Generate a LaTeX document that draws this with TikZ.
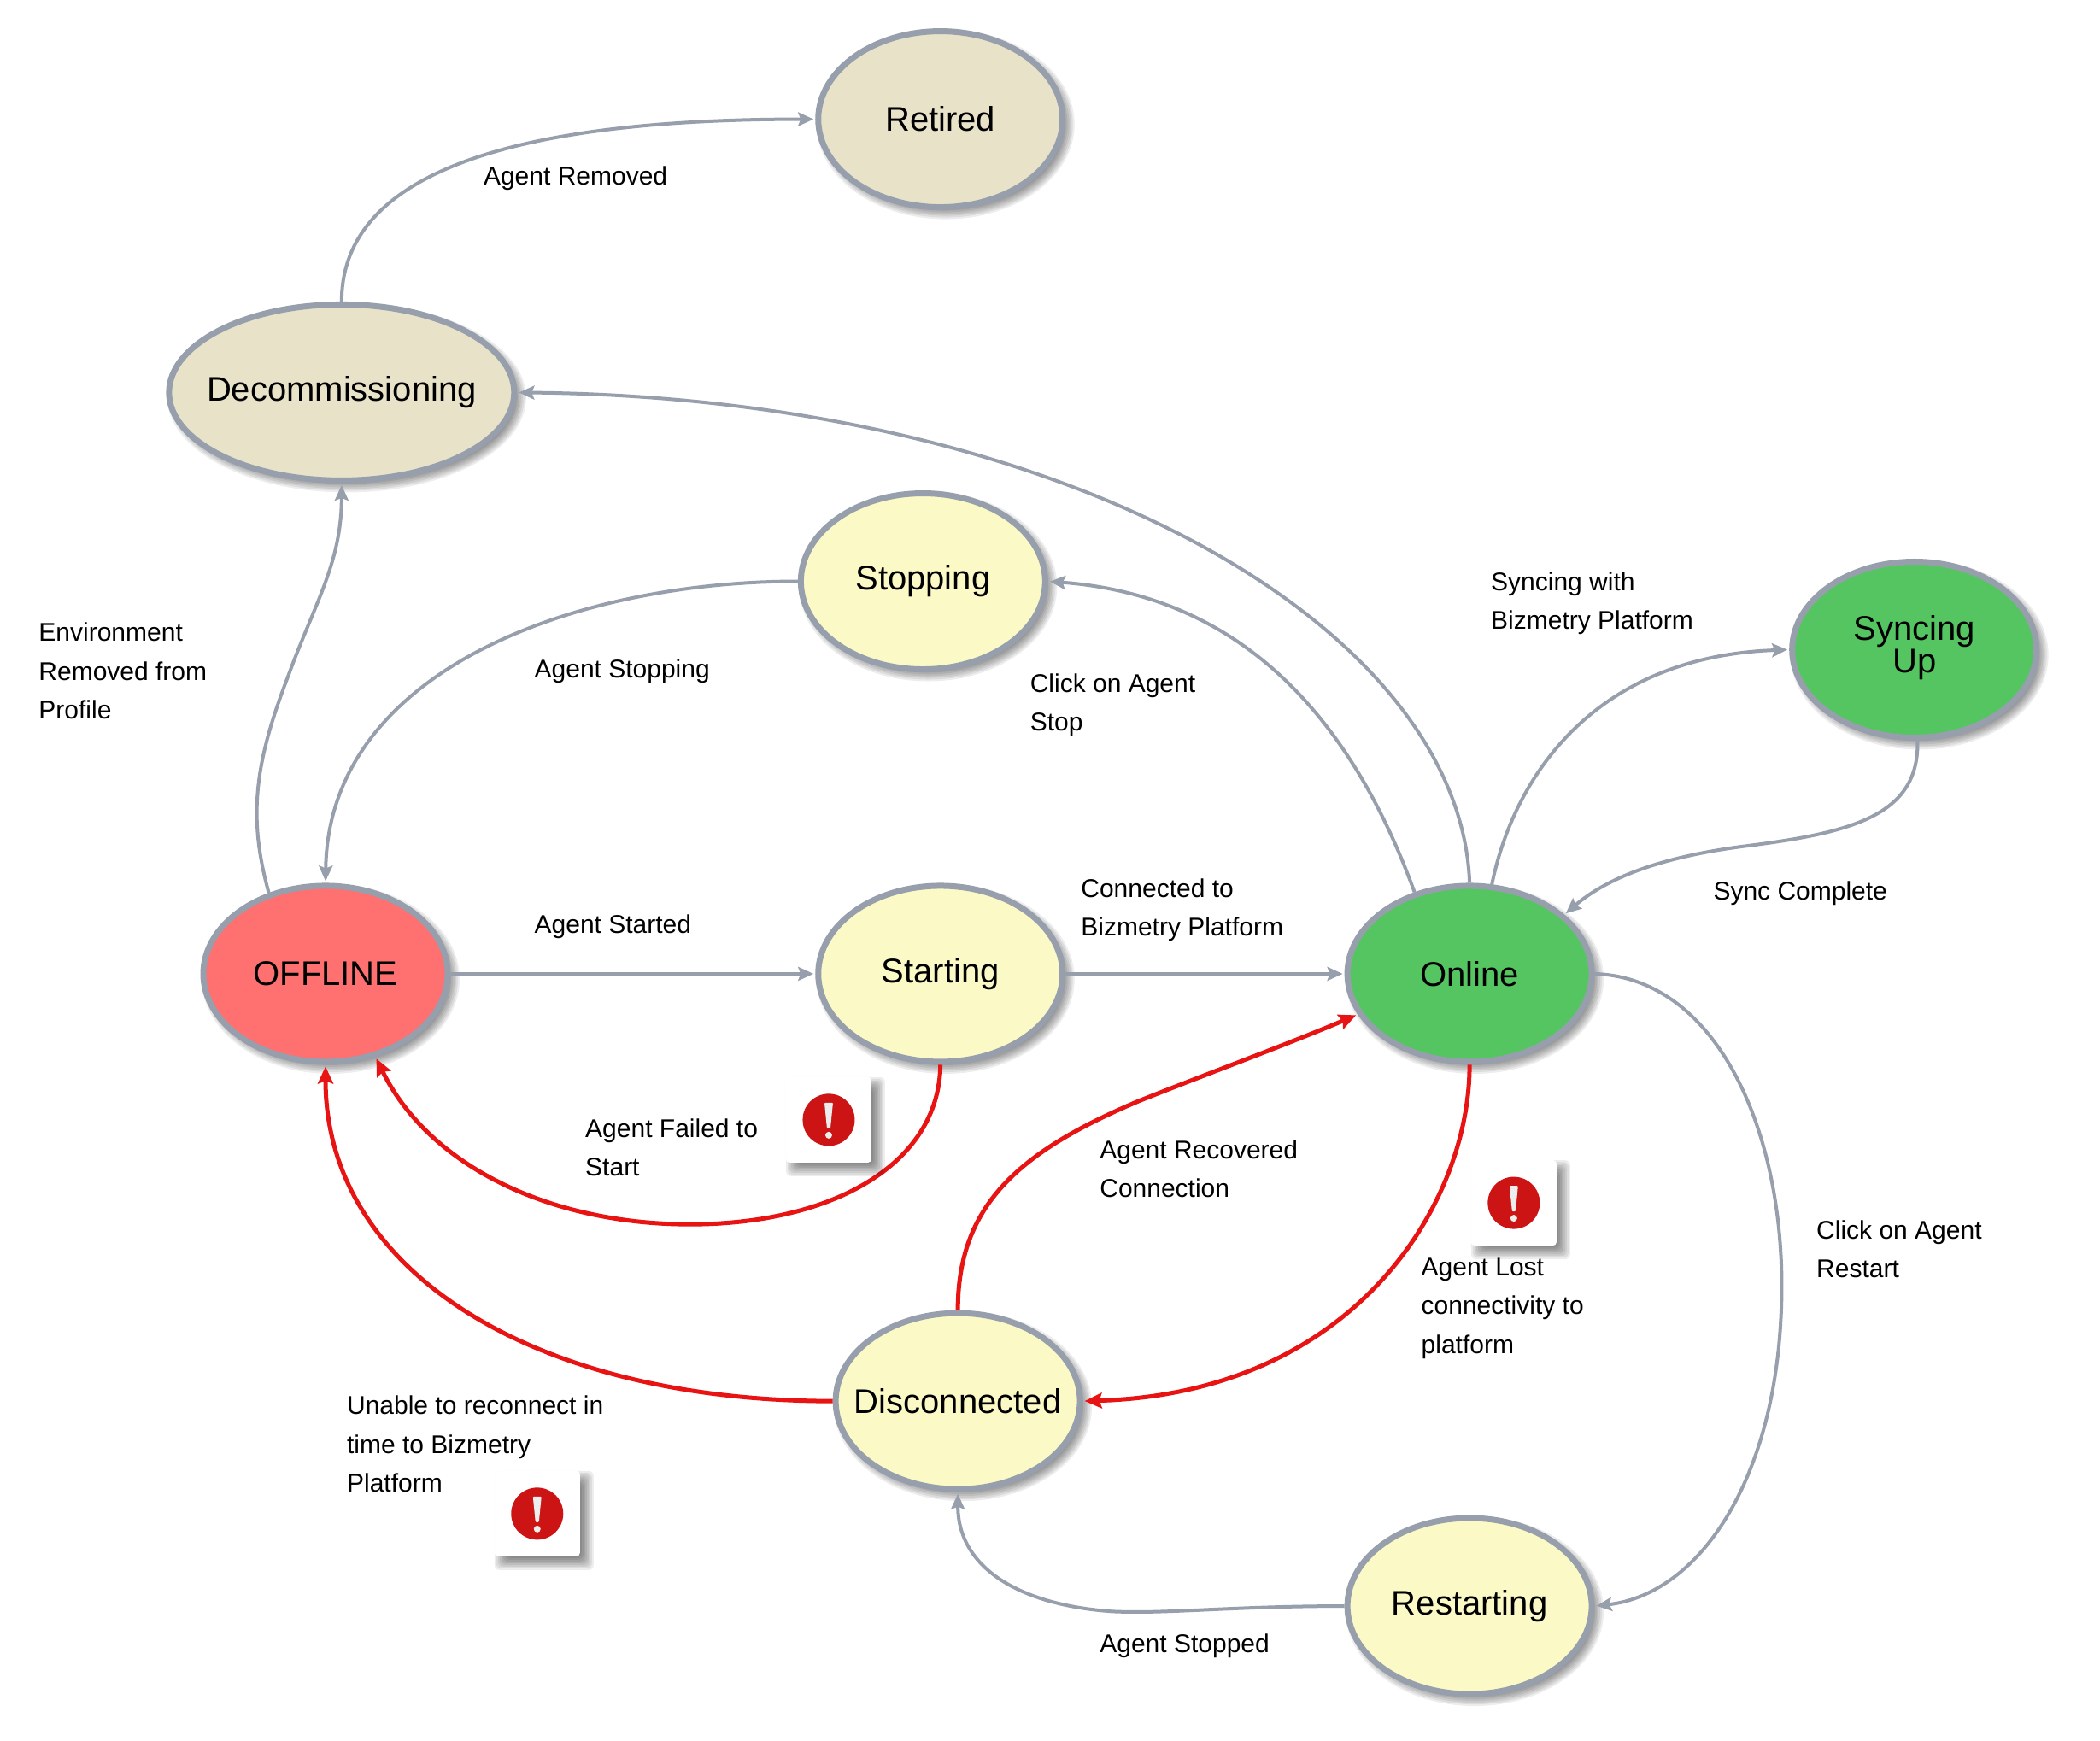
\documentclass[tikz,border=0pt]{standalone}
\usepackage{fontspec}
\setmainfont{Liberation Sans}
\usetikzlibrary{shapes.geometric,arrows.meta}
\definecolor{edgegray}{HTML}{989FAC}
\definecolor{edgered}{HTML}{E81313}
\definecolor{stateyellow}{HTML}{FBF9C6}
\definecolor{stategreen}{HTML}{55C562}
\definecolor{statered}{HTML}{FF7070}
\definecolor{statebeige}{HTML}{E7E2C8}
\definecolor{iconred}{HTML}{CC1414}
\tikzset{
  statebox/.style={ellipse,draw=edgegray,line width=7pt,outer sep=3.5pt,inner sep=0pt,text=black,font=\fontsize{40}{42}\selectfont},
  flow/.style={draw=edgegray,line width=4pt,-{Stealth[length=18pt,width=16pt,inset=3pt]},shorten >=2pt},
  failflow/.style={draw=edgered,line width=5pt,-{Stealth[length=20pt,width=18pt,inset=3pt]},shorten >=2pt},
  lbl/.style={anchor=north west,align=left,inner sep=0pt,outer sep=0pt,text=black,font=\fontsize{30}{45.5}\selectfont},
}
\newcommand{\statenode}[7]{%
  \foreach \d in {-8,-6,...,8}{\fill[black,opacity=0.07] (#3,#4) ++(6pt,-6pt) ellipse [x radius=#5pt+\d pt,y radius=#6pt+\d pt];}
  \node[statebox,fill=#7,minimum width=2*#5 pt,minimum height=2*#6 pt] (#1) at (#3,#4) {\makebox[0pt][c]{#2}};
}
\newcommand{\alerticon}[2]{%
  \begin{scope}[shift={(#1,#2)}]
    \foreach \d in {-8,-6,...,8}{\fill[black,opacity=0.07,rounded corners=6pt] (-50pt-\d pt+8pt,-50pt-\d pt-8pt) rectangle (50pt+\d pt+8pt,50pt+\d pt-8pt);}
    \fill[white,rounded corners=4pt] (-50pt,-50pt) rectangle (50pt,50pt);
    \fill[iconred] (0pt,0pt) circle [radius=30.5pt];
    \fill[white!93!black,rounded corners=1pt] (-5pt,20pt) -- (5pt,20pt) -- (2pt,-10pt) -- (-2pt,-10pt) -- cycle;
    \fill[white!93!black] (0pt,-18pt) circle [radius=4pt];
  \end{scope}
}
\begin{document}
\begin{tikzpicture}[x=1.568pt,y=-1.568pt]
\useasboundingbox (0,0) rectangle (1567.6,1299.7);
\fill[white] (0,0) rectangle (1567.6,1299.7);
\statenode{retired}{Retired}{702}{89}{143}{103}{statebeige}
\statenode{decom}{Decommissioning}{255}{293}{202}{103}{statebeige}
\statenode{stopping}{Stopping}{689}{434}{143}{103}{stateyellow}
\statenode{syncing}{\begin{tabular}{@{}c@{}}Syncing\\[-4pt]Up\end{tabular}}{1429}{485}{143}{103}{stategreen}
\statenode{offline}{OFFLINE}{243}{727}{143}{103}{statered}
\statenode{starting}{Starting}{702}{727}{143}{103}{stateyellow}
\statenode{online}{Online}{1097}{727}{143}{103}{stategreen}
\statenode{disc}{Disconnected}{715}{1046}{143}{103}{stateyellow}
\statenode{restart}{Restarting}{1097}{1199}{143}{103}{stateyellow}

\draw[flow] (decom.90) .. controls (255,130) and (380,89) .. (retired.180);
\draw[flow] (online.90) .. controls (1090,470) and (800,297) .. (decom.0);
\draw[flow] (online.124) .. controls (1010,540) and (930,445) .. (stopping.0);
\draw[flow] (online.76) .. controls (1130,580) and (1190,490) .. (syncing.180);
\draw[flow] (syncing.272) .. controls (1433,610) and (1380,622) .. (1300,632) .. controls (1240,640) and (1200,655) .. (online.32);
\draw[flow] (online.0) .. controls (1280,730) and (1330,840) .. (1330,960) .. controls (1330,1100) and (1270,1190) .. (restart.0);
\draw[flow] (restart.180) .. controls (920,1199) and (870,1205) .. (830,1203) .. controls (760,1198) and (715,1170) .. (disc.270);
\draw[failflow] (online.270) .. controls (1097,900) and (1010,1040) .. (disc.0);
\draw[failflow] (disc.90) .. controls (715,900) and (760,860) .. (850,822) .. controls (900,802) and (960,780) .. (online.200);
\draw[failflow] (disc.180) .. controls (400,1046) and (243,950) .. (offline.270);
\draw[failflow] (starting.270) .. controls (701,870) and (620,914) .. (515,914) .. controls (410,914) and (320,870) .. (offline.301);
\draw[flow] (offline.125) .. controls (185,610) and (190,570) .. (215,505) .. controls (235,450) and (255,420) .. (decom.270);
\draw[flow] (stopping.180) .. controls (430,434) and (245,500) .. (offline.90);
\draw[flow] (offline.0) -- (starting.180);
\draw[flow] (starting.0) -- (online.180);

\alerticon{618.6}{836}
\alerticon{1130}{898}
\alerticon{401}{1130}

\node[lbl] (l1) at (361,124) {Agent Removed};
\node[lbl] (l2) at (29,465) {Environment\\Removed from\\Profile};
\node[lbl] (l3) at (399,492) {Agent Stopping};
\node[lbl] (l4) at (769,503) {Click on Agent\\Stop};
\node[lbl] (l5) at (1113,427) {Syncing with\\Bizmetry Platform};
\node[lbl] (l6) at (1279,658) {Sync Complete};
\node[lbl] (l7) at (807,656) {Connected to\\Bizmetry Platform};
\node[lbl] (l8) at (399,683) {Agent Started};
\node[lbl] (l9) at (437,835) {Agent Failed to\\Start};
\node[lbl] (l10) at (821,851) {Agent Recovered\\Connection};
\node[lbl] (l11) at (1061,939) {Agent Lost\\connectivity to\\platform};
\node[lbl] (l12) at (1356,911) {Click on Agent\\Restart};
\node[lbl] (l13) at (259,1042) {Unable to reconnect in\\time to Bizmetry\\Platform};
\node[lbl] (l14) at (821,1220) {Agent Stopped};
\end{tikzpicture}
\end{document}
